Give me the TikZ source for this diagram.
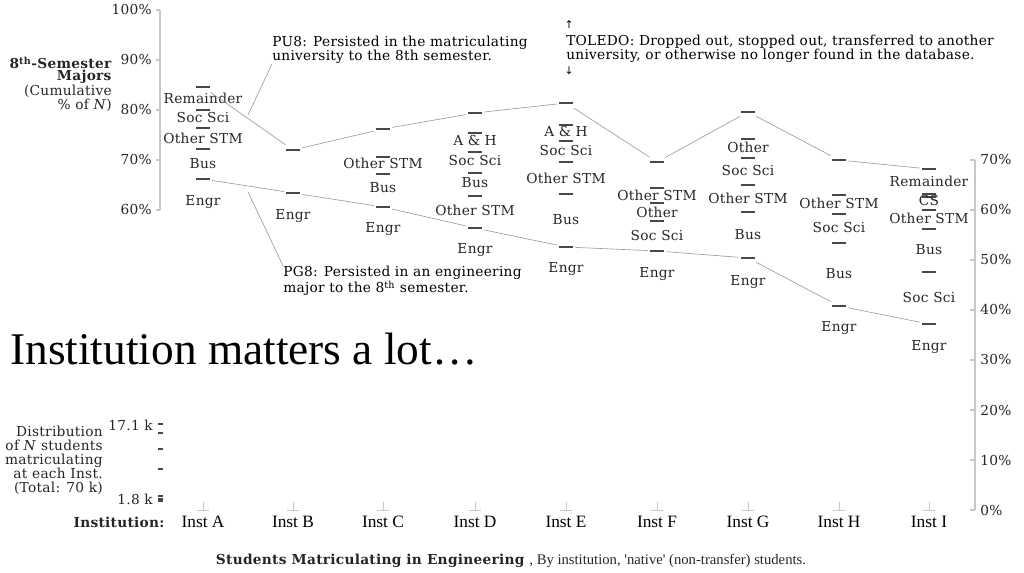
\documentclass[tikz,border=0pt]{standalone}
\usepackage{fontspec}
\setmainfont[LetterSpace=2]{DejaVu Serif}
\newfontfamily\timesfont{Liberation Serif}
\newfontfamily\arrowfont{DejaVu Sans}
\newcommand\colorBar{black!72}
\newcommand\colorLink{black!38}
\newcommand\colorAxis{black!22}
\newcommand\barHalf{7}
\newcommand\labSize{\fontsize{10.3}{10.5}\selectfont}
\tikzset{
	bar/.style={draw=\colorBar, line width=2.2pt},
	link/.style={draw=\colorLink, line width=0.5pt, shorten <=7pt, shorten >=7pt},
	callout/.style={draw=\colorLink, line width=0.5pt},
	axisline/.style={draw=\colorAxis, line width=0.9pt},
	lab/.style={font=\labSize, inner sep=0pt, text=black!85},
	note/.style={font=\labSize, inner sep=0pt, align=left, anchor=west},
	inst/.style={font=\timesfont\fontsize{13}{14}\selectfont, inner sep=0pt}
}

\begin{document}
\begin{tikzpicture}[x=0.75pt, y=-0.75pt]
	\useasboundingbox (0,0) rectangle (1024,573);
	
	% left axis
	\draw[axisline] (160,10) -- (160,210);
	\foreach \k/\t in {0/100,1/90,2/80,3/70,4/60}{
		\draw[axisline] (156,10+50*\k) -- (160,10+50*\k);
		\node[lab, anchor=east] (left-\t) at (152,10+50*\k) {\t\%};
	}
	\node[lab, anchor=east] (title1) at (112,63) {\textbf{8\textsuperscript{th}-Semester}};
	\node[lab, anchor=east] (title2) at (112,77) {\textbf{Majors}};
	\node[lab, anchor=east] (title3) at (112,91) {(Cumulative};
	\node[lab, anchor=east] (title4) at (112,105) {\% of \textit{N})};
	
	% right axis
	\draw[axisline] (975,160) -- (975,510);
	\foreach \k/\t in {0/0,1/10,2/20,3/30,4/40,5/50,6/60,7/70}{
		\draw[axisline] (970,510-50*\k) -- (975,510-50*\k);
		\node[lab, anchor=west] (right-\t) at (980,510-50*\k) {\t\%};
	}
	
	% columns
	\foreach \inst/\cx/\marks/\names in {
		A/203/{87,110,128,149,179}/{98/Remainder,118/Soc Sci,138/Other STM,164/Bus,202/Engr},
		B/293/{150,193}/{216/Engr},
		C/383/{129,157,174,207}/{163/Other STM,188/Bus,229/Engr},
		D/475/{113,133,152,173,196,228}/{141/A \& H,161/Soc Sci,183/Bus,210/Other STM,250/Engr},
		E/566/{103,125,141,162,194,247}/{132/A \& H,151/Soc Sci,178/Other STM,220/Bus,269/Engr},
		F/657/{162,188,203,221,251}/{195/Other STM,212/Other,236/Soc Sci,274/Engr},
		G/748/{112,139,158,185,212,258}/{147/Other,171/Soc Sci,198/Other STM,235/Bus,282/Engr},
		H/839/{160,195,214,243,306}/{203/Other STM,228/Soc Sci,274/Bus,328/Engr},
		I/929/{169,194,197,210,229,272,324}/{181/Remainder,201/CS,218/Other STM,250/Bus,298/Soc Sci,347/Engr}}{
		\foreach \my in \marks{
			\draw[bar] (\cx-\barHalf,\my) -- (\cx+\barHalf,\my);
		}
		\foreach \ly/\txt in \names{
			\node[lab] (lab-\inst-\ly) at (\cx,\ly) {\txt};
		}
		\draw[axisline, line width=0.5pt] (\cx,502) -- (\cx,510) (\cx-6,510) -- (\cx+6,510);
		\node[inst] (inst-\inst) at (\cx,522) {Inst \inst};
	}
	
	% persistence lines
	\foreach \inst/\cx/\top/\low in {A/203/87/179,B/293/150/193,C/383/129/207,D/475/113/228,
		E/566/103/247,F/657/162/251,G/748/112/258,H/839/160/306,I/929/169/324}{
		\coordinate (pu-\inst) at (\cx,\top);
		\coordinate (pg-\inst) at (\cx,\low);
	}
	\foreach \a/\b in {A/B,B/C,C/D,D/E,E/F,F/G,G/H,H/I}{
		\draw[link] (pu-\a) -- (pu-\b);
		\draw[link] (pg-\a) -- (pg-\b);
	}
	
	% notes
	\node[note] (pu8) at (272,50) {PU8: Persisted in the matriculating\\university to the 8th semester.};
	\coordinate (pu8-tip) at (248,115);
	\draw[callout] (pu8-tip) -- (pu8.south west);
	\node[note] (pg8) at (283,281) {PG8: Persisted in an engineering\\major to the 8\textsuperscript{th} semester.};
	\coordinate (pg8-tip) at (248,192);
	\draw[callout] (pg8-tip) -- (pg8.north west);
	\node[note] (toledo) at (566,49) {TOLEDO: Dropped out, stopped out, transferred to another\\university, or otherwise no longer found in the database.};
	\node[font=\arrowfont\fontsize{8}{8}\selectfont, inner sep=0pt] (toledo-up) at (569,25) {↑};
	\node[font=\arrowfont\fontsize{8}{8}\selectfont, inner sep=0pt] (toledo-down) at (569,71) {↓};
	
	% headline
	\node[anchor=base west, inner sep=0pt, font=\timesfont\fontsize{34}{38}\selectfont] (headline) at (10,365) {Institution matters a lot…};
	
	% distribution of N
	\node[lab, anchor=east, align=right] (dist) at (103,460) {Distribution\\of \textit{N} students\\matriculating\\at each Inst.\\(Total: 70 k)};
	\node[lab, anchor=east] (dist-max) at (153,425) {17.1 k};
	\node[lab, anchor=east] (dist-min) at (153,499) {1.8 k};
	\foreach \my in {424,433,449,469,496,499,501}{
		\draw[draw=\colorBar, line width=0.8pt] (158,\my) -- (163,\my);
	}
	\node[lab, anchor=east] (inst-title) at (165,522) {\textbf{Institution:}};
	
	% caption
	\node[lab] (caption) at (511,561) {\textbf{Students Matriculating in Engineering} {\timesfont\fontsize{11}{12}\selectfont , By institution, 'native' (non-transfer) students.}};
\end{tikzpicture}
\end{document}
